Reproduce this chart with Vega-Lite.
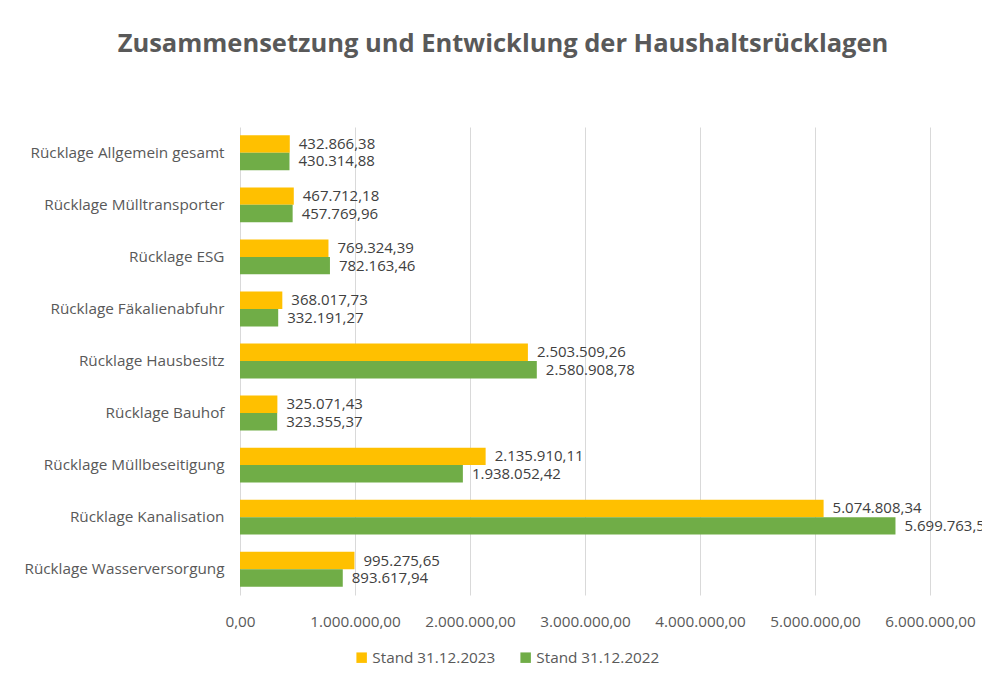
{
  "$schema": "https://vega.github.io/schema/vega-lite/v6.json",
  "width": 690,
  "height": 468,
  "autosize": {"type": "none"},
  "padding": {"left": 240, "top": 127, "right": 52, "bottom": 88},
  "background": "white",
  "config": {
    "locale": {"number": {"decimal": ",", "thousands": ".", "grouping": [3], "currency": ["", ""]}},
    "font": "Open Sans",
    "view": {"stroke": null}
  },
  "title": {
    "text": "Zusammensetzung und Entwicklung der Haushaltsrücklagen",
    "fontSize": 25.5,
    "font": "Open Sans",
    "fontWeight": "bold",
    "color": "#595959",
    "anchor": "middle",
    "dx": -82,
    "offset": 70
  },
  "data": {
    "values": [
      {"kategorie": "Rücklage Allgemein gesamt", "serie": "Stand 31.12.2023", "wert": 432866.38},
      {"kategorie": "Rücklage Allgemein gesamt", "serie": "Stand 31.12.2022", "wert": 430314.88},
      {"kategorie": "Rücklage Mülltransporter", "serie": "Stand 31.12.2023", "wert": 467712.18},
      {"kategorie": "Rücklage Mülltransporter", "serie": "Stand 31.12.2022", "wert": 457769.96},
      {"kategorie": "Rücklage ESG", "serie": "Stand 31.12.2023", "wert": 769324.39},
      {"kategorie": "Rücklage ESG", "serie": "Stand 31.12.2022", "wert": 782163.46},
      {"kategorie": "Rücklage Fäkalienabfuhr", "serie": "Stand 31.12.2023", "wert": 368017.73},
      {"kategorie": "Rücklage Fäkalienabfuhr", "serie": "Stand 31.12.2022", "wert": 332191.27},
      {"kategorie": "Rücklage Hausbesitz", "serie": "Stand 31.12.2023", "wert": 2503509.26},
      {"kategorie": "Rücklage Hausbesitz", "serie": "Stand 31.12.2022", "wert": 2580908.78},
      {"kategorie": "Rücklage Bauhof", "serie": "Stand 31.12.2023", "wert": 325071.43},
      {"kategorie": "Rücklage Bauhof", "serie": "Stand 31.12.2022", "wert": 323355.37},
      {"kategorie": "Rücklage Müllbeseitigung", "serie": "Stand 31.12.2023", "wert": 2135910.11},
      {"kategorie": "Rücklage Müllbeseitigung", "serie": "Stand 31.12.2022", "wert": 1938052.42},
      {"kategorie": "Rücklage Kanalisation", "serie": "Stand 31.12.2023", "wert": 5074808.34},
      {"kategorie": "Rücklage Kanalisation", "serie": "Stand 31.12.2022", "wert": 5699763.5},
      {"kategorie": "Rücklage Wasserversorgung", "serie": "Stand 31.12.2023", "wert": 995275.65},
      {"kategorie": "Rücklage Wasserversorgung", "serie": "Stand 31.12.2022", "wert": 893617.94}
    ]
  },
  "encoding": {
    "y": {
      "field": "kategorie",
      "type": "nominal",
      "sort": null,
      "scale": {"paddingInner": 0.33, "paddingOuter": 0.16},
      "axis": {
        "title": null,
        "ticks": false,
        "domain": false,
        "labelFontSize": 15.3,
        "labelColor": "#595959",
        "labelPadding": 16,
        "labelLimit": 300,
        "labelFont": "Open Sans"
      }
    },
    "yOffset": {"field": "serie", "type": "nominal", "sort": ["Stand 31.12.2023", "Stand 31.12.2022"]},
    "x": {
      "field": "wert",
      "type": "quantitative",
      "scale": {"domain": [0, 6000000], "nice": false},
      "axis": {
        "title": null,
        "format": ",.2f",
        "values": [0, 1000000, 2000000, 3000000, 4000000, 5000000, 6000000],
        "ticks": false,
        "domain": false,
        "grid": true,
        "gridColor": "#d9d9d9",
        "gridWidth": 1,
        "labelOverlap": false,
        "labelFlush": false,
        "labelBound": false,
        "labelFontSize": 15.3,
        "labelColor": "#595959",
        "labelPadding": 19,
        "labelFont": "Open Sans"
      }
    }
  },
  "layer": [
    {
      "mark": {"type": "bar"},
      "encoding": {
        "color": {
          "field": "serie",
          "type": "nominal",
          "sort": ["Stand 31.12.2023", "Stand 31.12.2022"],
          "scale": {"domain": ["Stand 31.12.2023", "Stand 31.12.2022"], "range": ["#FFC000", "#70AD47"]},
          "legend": {
            "title": null,
            "orient": "none",
            "direction": "horizontal",
            "legendX": 114,
            "legendY": 523,
            "symbolType": "square",
            "symbolSize": 110,
            "symbolStrokeWidth": 0,
            "labelFontSize": 15.3,
            "labelColor": "#595959",
            "labelFont": "Open Sans",
            "columnPadding": 22,
            "labelOffset": 3
          }
        }
      }
    },
    {
      "mark": {"type": "text", "align": "left", "dx": 9, "fontSize": 15, "color": "#404040", "font": "Open Sans"},
      "encoding": {
        "text": {"field": "wert", "type": "quantitative", "format": ",.2f"}
      }
    }
  ]
}
